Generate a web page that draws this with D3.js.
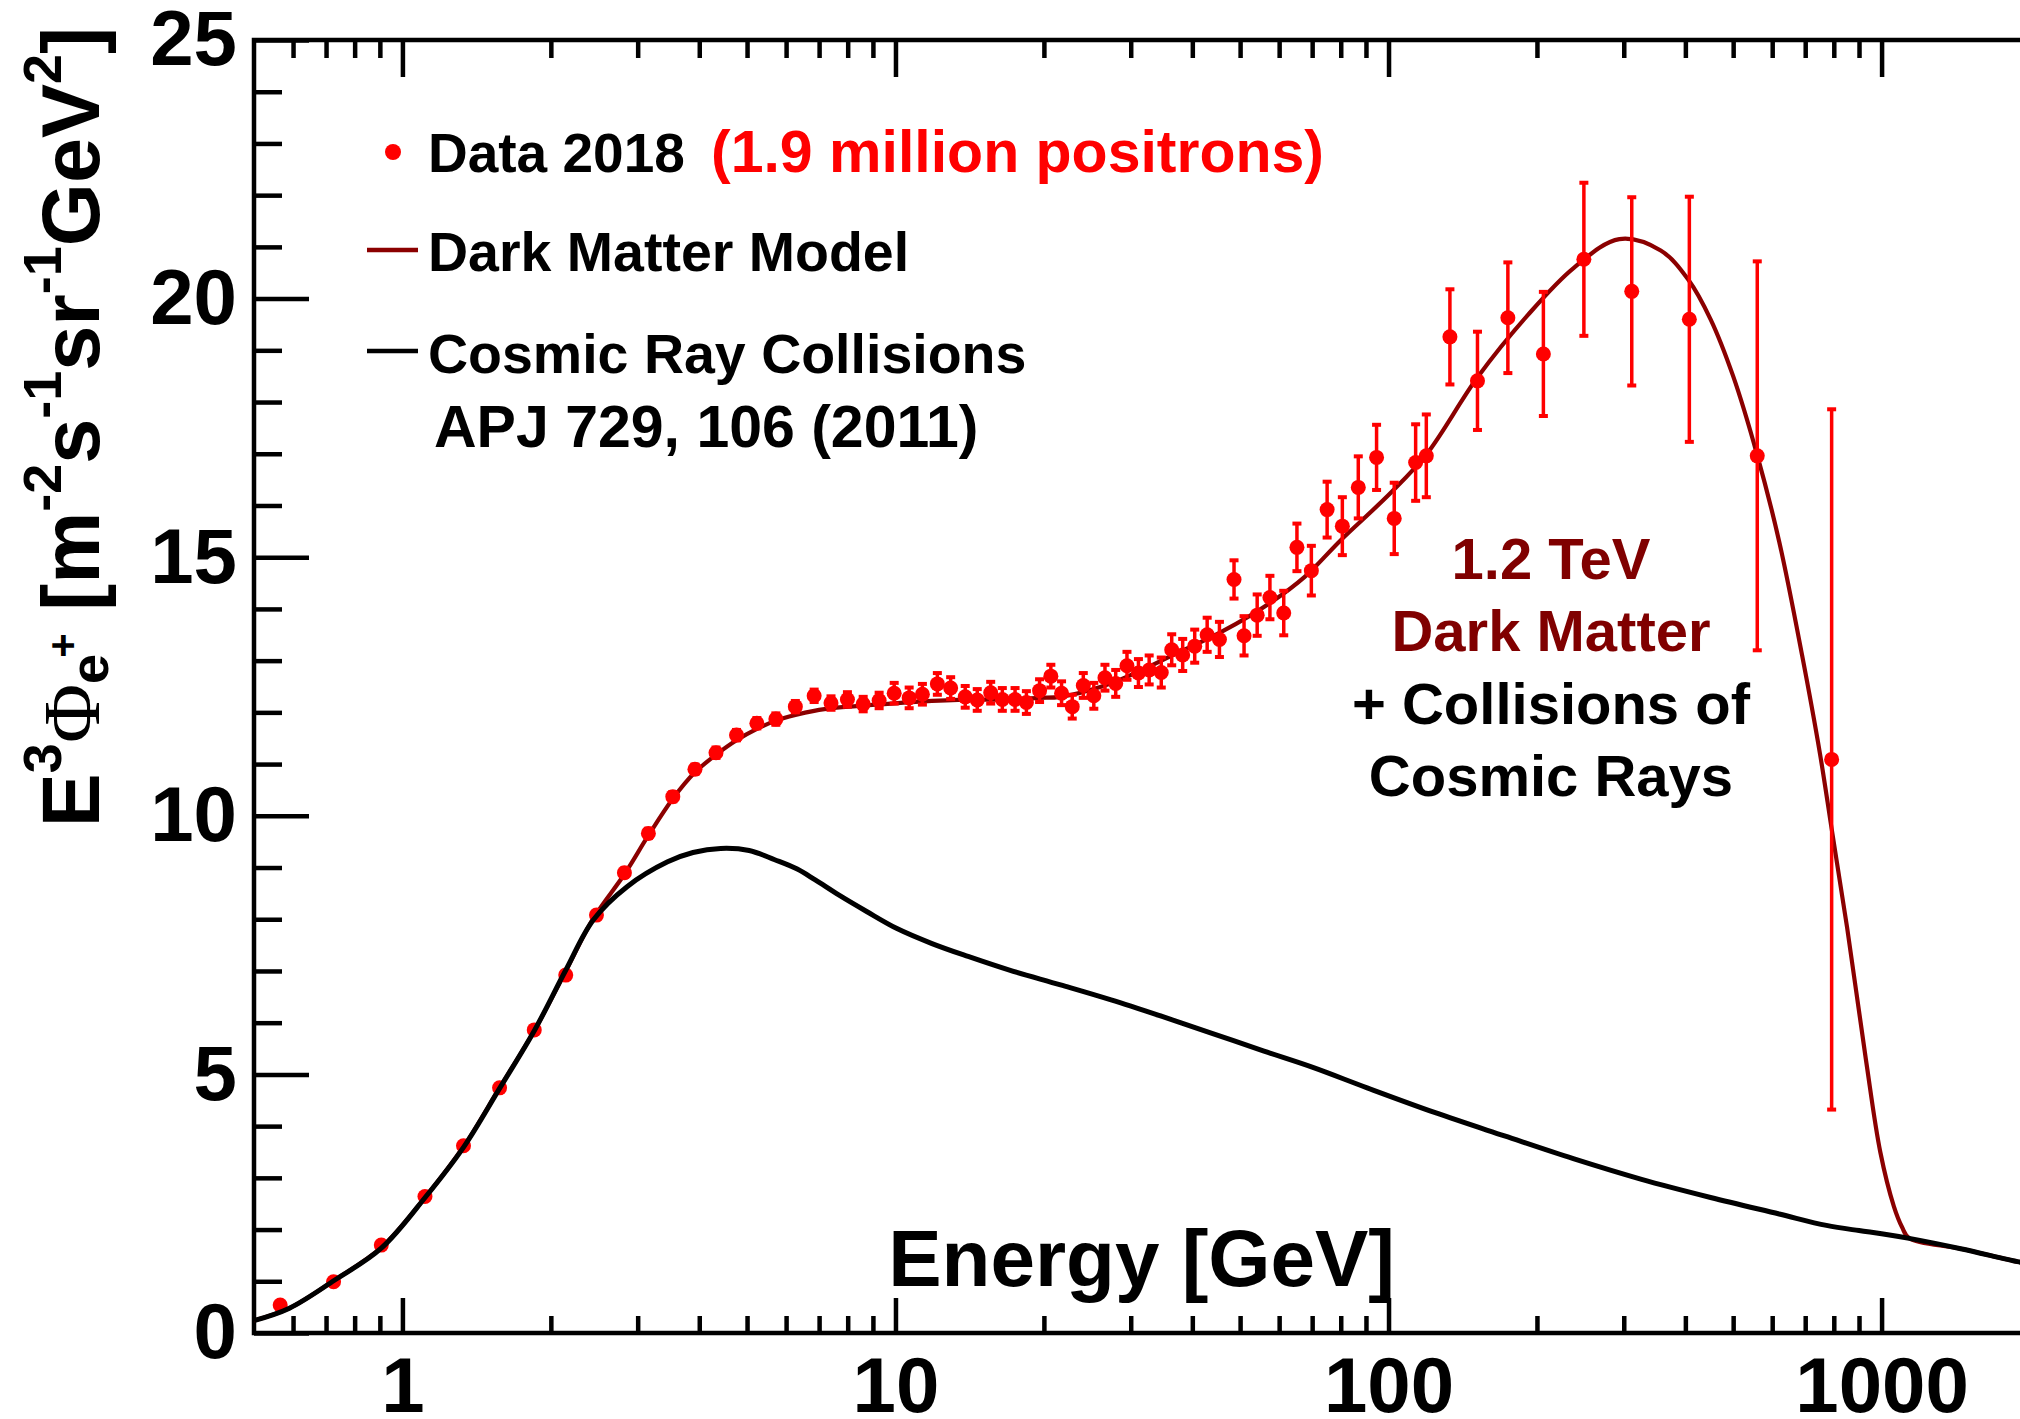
<!DOCTYPE html>
<html>
<head>
<meta charset="utf-8">
<script src="https://cdn.jsdelivr.net/npm/d3@7"></script>
<style>
  html, body { margin: 0; padding: 0; background: #fff; }
  svg { display: block; font-family: "Liberation Sans", Arial, Helvetica, sans-serif; font-weight: bold; }
</style>
</head>
<body>
<svg id="chart" width="2020" height="1419"></svg>
<script>
// Positron flux measurement, E^3-weighted [m^-2 s^-1 sr^-1 GeV^2]
const energy = [0.565,0.725,0.906,1.111,1.33,1.574,1.851,2.144,2.475,2.82,
  3.154,3.535,3.92,4.325,4.76,5.235,5.72,6.265,6.84,7.40,
  7.99,8.60,9.265,9.94,10.66,11.34,12.16,12.94,13.85,14.65,
  15.6,16.47,17.48,18.43,19.6,20.66,21.72,22.83,24.04,25.25,
  26.6,27.97,29.48,31.1,32.7,34.6,36.33,38.24,40.45,42.87,
  45.4,48.6,50.93,54.15,57.47,61.3,65.2,69.74,75.07,80.6,
  86.83,94.57,102.7,113.5,119.3,133.2,151.5,174.6,206.1,249,
  311.4,407.5,559.6,792];
const flux = [0.54,0.99,1.70,2.64,3.62,4.74,5.86,6.92,8.08,8.90,
  9.66,10.37,10.90,11.22,11.56,11.79,11.87,12.11,12.32,12.18,
  12.25,12.16,12.23,12.37,12.28,12.35,12.55,12.47,12.30,12.24,
  12.38,12.25,12.25,12.19,12.42,12.70,12.37,12.11,12.52,12.32,
  12.67,12.56,12.90,12.76,12.82,12.77,13.21,13.11,13.28,13.50,
  13.41,14.57,13.48,13.88,14.22,13.92,15.19,14.74,15.92,15.60,
  16.35,16.93,15.75,16.83,16.96,19.26,18.41,19.63,18.93,20.76,
  20.14,19.60,16.96,11.09];
const fluxErr = [0.04,0.04,0.05,0.05,0.06,0.06,0.07,0.07,0.08,0.08,
  0.09,0.09,0.09,0.10,0.10,0.10,0.11,0.11,0.12,0.13,
  0.14,0.14,0.15,0.20,0.20,0.20,0.21,0.21,0.21,0.21,
  0.21,0.22,0.22,0.22,0.22,0.22,0.23,0.23,0.24,0.25,
  0.25,0.26,0.27,0.27,0.28,0.29,0.30,0.31,0.32,0.33,
  0.34,0.37,0.38,0.40,0.42,0.43,0.46,0.48,0.54,0.56,
  0.60,0.63,0.69,0.74,0.80,0.92,0.95,1.07,1.20,1.48,
  1.82,2.37,3.76,6.77];

// Secondary positrons from cosmic ray collisions (APJ 729, 106)
const bkgEnergy = [0.5,0.59,0.728,0.906,1.116,1.332,1.572,1.855,2.14,2.44,
  2.855,3.45,3.885,4.42,5.05,5.69,6.32,6.875,7.67,8.74,
  10.07,11.86,14.04,16.97,21.62,27.37,34.73,44.0,55.9,70.0,
  90.5,124.4,171.9,237,326,450,620,773,900,1000,
  1138,1447,1886,2000];
const bkgFlux = [0.24,0.48,1.02,1.64,2.64,3.6,4.72,5.86,7.0,7.99,
  8.63,9.11,9.29,9.37,9.33,9.15,8.97,8.76,8.47,8.15,
  7.82,7.53,7.28,7.02,6.73,6.44,6.12,5.79,5.45,5.14,
  4.74,4.26,3.81,3.37,2.97,2.62,2.3,2.08,1.98,1.92,
  1.83,1.63,1.38,1.34];

// Dark matter model (1.2 TeV) plus collisions
const dmEnergy = [0.5,0.59,0.728,0.906,1.116,1.332,1.572,1.855,2.14,2.44,
  2.82,3.154,3.535,3.92,4.325,4.76,5.235,5.72,6.265,6.84,
  7.6,8.33,10.1,13.4,16.97,19.6,21.6,26.6,30.5,36.4,
  45.9,58.0,67.6,80.0,100.7,119.6,151.3,191.6,237.3,293.9,
  356.5,405.3,450,500,559.6,620,690,750,792,851,
  929,994,1059,1100,1138,1447,1886,2000];
const dmFlux = [0.24,0.48,1.02,1.65,2.64,3.61,4.73,5.86,6.98,8.02,
  8.87,9.62,10.33,10.84,11.18,11.46,11.68,11.84,11.95,12.03,
  12.09,12.12,12.18,12.24,12.25,12.28,12.3,12.52,12.75,13.1,
  13.56,14.14,14.62,15.33,16.23,17.0,18.47,19.68,20.59,21.15,
  20.93,20.37,19.6,18.5,16.97,15.3,13.1,11.2,9.75,7.85,
  5.3,3.5,2.45,2.05,1.83,1.63,1.38,1.34];

const yMajorTicks = [0, 5, 10, 15, 20, 25];
const xMajorTicks = [1, 10, 100, 1000];

const RED = "#ff0000", DARKRED = "#8b0000", MAROON = "#800000";

const svg = d3.select("#chart");
svg.append("rect").attr("width", 2020).attr("height", 1419).attr("fill", "#fff");

const padL = 254, padR = 2030, padT = 40, padB = 1333;
const x = d3.scaleLog().domain([0.5, 2000]).range([padL, padR]);
const y = d3.scaleLinear().domain([0, 25]).range([padB, padT]);

const xMinor = [];
[0.1, 1, 10, 100, 1000].forEach(dec => {
  for (let k = 2; k <= 9; k++) {
    const v = dec * k;
    if (v > 0.5 && v < 2000) xMinor.push(v);
  }
});
const yMinor = d3.range(0, 26).filter(v => v % 5 !== 0);

function styleAxis(g) {
  g.select(".domain").remove();
  g.selectAll(".tick line").attr("stroke", "#000").attr("stroke-width", 4.5);
  g.selectAll(".tick text").attr("fill", "#000").attr("font-size", 78)
    .attr("font-family", "'Liberation Sans', Arial, sans-serif").attr("font-weight", "bold");
}

// bottom axis: inward ticks
svg.append("g").attr("transform", `translate(0,${padB})`)
  .call(d3.axisBottom(x).tickValues(xMinor).tickSize(-17).tickFormat(""))
  .call(styleAxis);
svg.append("g").attr("transform", `translate(0,${padB})`)
  .call(d3.axisBottom(x).tickValues(xMajorTicks).tickSize(-35).tickPadding(24).tickFormat(d3.format("d")))
  .call(styleAxis);
// top axis mirror ticks
svg.append("g").attr("transform", `translate(0,${padT})`)
  .call(d3.axisTop(x).tickValues(xMinor).tickSize(-18).tickFormat(""))
  .call(styleAxis);
svg.append("g").attr("transform", `translate(0,${padT})`)
  .call(d3.axisTop(x).tickValues(xMajorTicks).tickSize(-37).tickFormat(""))
  .call(styleAxis);
// left axis
svg.append("g").attr("transform", `translate(${padL},0)`)
  .call(d3.axisLeft(y).tickValues(yMinor).tickSize(-28).tickFormat(""))
  .call(styleAxis);
svg.append("g").attr("transform", `translate(${padL},0)`)
  .call(d3.axisLeft(y).tickValues(yMajorTicks).tickSize(-55).tickPadding(17).tickFormat(d3.format("d")))
  .call(styleAxis);

// frame
svg.append("rect").attr("x", padL).attr("y", padT)
  .attr("width", padR - padL).attr("height", padB - padT)
  .attr("fill", "none").attr("stroke", "#000").attr("stroke-width", 4.5);

// axis titles
svg.append("text").attr("x", 1395).attr("y", 1286).attr("text-anchor", "end")
  .attr("font-size", 80).text("Energy [GeV]");

const yl = svg.append("text")
  .attr("transform", "translate(99,27) rotate(-90)")
  .attr("text-anchor", "end").attr("font-size", 81);
const sup = 54, raise = 38;
yl.append("tspan").text("E");
yl.append("tspan").attr("font-size", sup).attr("dy", -raise).text("3");
yl.append("tspan").attr("dy", raise).attr("font-family", "'Liberation Serif', 'DejaVu Serif', serif")
  .attr("font-weight", "normal").text("\u03A6");
yl.append("tspan").attr("font-size", sup).attr("dy", 9).text("e");
yl.append("tspan").attr("font-size", 42).attr("dy", -31).attr("dx", -4).text("+");
yl.append("tspan").attr("dy", 22).text(" [m");
yl.append("tspan").attr("font-size", sup).attr("dy", -raise).text("-2");
yl.append("tspan").attr("dy", raise).text("s");
yl.append("tspan").attr("font-size", sup).attr("dy", -raise).text("-1");
yl.append("tspan").attr("dy", raise).text("sr");
yl.append("tspan").attr("font-size", sup).attr("dy", -raise).text("-1");
yl.append("tspan").attr("dy", raise).text("GeV");
yl.append("tspan").attr("font-size", sup).attr("dy", -raise).text("2");
yl.append("tspan").attr("dy", raise).text("]");

// curves
const clipId = "plotclip";
svg.append("clipPath").attr("id", clipId).append("rect")
  .attr("x", padL).attr("y", padT).attr("width", padR - padL).attr("height", padB - padT);

const line = d3.line().x(d => x(d[0])).y(d => y(d[1])).curve(d3.curveCatmullRom.alpha(0.5));
const plot = svg.append("g").attr("clip-path", `url(#${clipId})`);

plot.append("path").datum(d3.zip(dmEnergy, dmFlux))
  .attr("d", line).attr("fill", "none").attr("stroke", DARKRED).attr("stroke-width", 4.2);

// data with error bars
const pts = energy.map((e, i) => ({ e, v: flux[i], err: fluxErr[i] }));
const pg = plot.append("g");
pg.selectAll("line.bar").data(pts).join("line")
  .attr("x1", d => x(d.e)).attr("x2", d => x(d.e))
  .attr("y1", d => y(d.v - d.err)).attr("y2", d => y(d.v + d.err))
  .attr("stroke", RED).attr("stroke-width", 3.5);
pg.selectAll("rect.capTop").data(pts).join("rect").attr("class", "capTop")
  .attr("x", d => x(d.e) - 4.5).attr("y", d => y(d.v + d.err) - 2)
  .attr("width", 9).attr("height", 4).attr("fill", RED);
pg.selectAll("rect.capBot").data(pts).join("rect").attr("class", "capBot")
  .attr("x", d => x(d.e) - 4.5).attr("y", d => y(d.v - d.err) - 2)
  .attr("width", 9).attr("height", 4).attr("fill", RED);
pg.selectAll("circle").data(pts).join("circle")
  .attr("cx", d => x(d.e)).attr("cy", d => y(d.v)).attr("r", 7.5).attr("fill", RED);

plot.append("path").datum(d3.zip(bkgEnergy, bkgFlux))
  .attr("d", line).attr("fill", "none").attr("stroke", "#000").attr("stroke-width", 5);

// legend
const lg = svg.append("g");
lg.append("circle").attr("cx", 393).attr("cy", 152).attr("r", 8).attr("fill", RED);
lg.append("text").attr("x", 428).attr("y", 172).attr("font-size", 55).text("Data 2018");
lg.append("text").attr("x", 711).attr("y", 172).attr("font-size", 59).attr("fill", RED)
  .text("(1.9 million positrons)");
lg.append("line").attr("x1", 367).attr("x2", 418).attr("y1", 250).attr("y2", 250)
  .attr("stroke", DARKRED).attr("stroke-width", 4.5);
lg.append("text").attr("x", 428).attr("y", 271).attr("font-size", 55.5).text("Dark Matter Model");
lg.append("line").attr("x1", 367).attr("x2", 418).attr("y1", 351).attr("y2", 351)
  .attr("stroke", "#000").attr("stroke-width", 4.5);
lg.append("text").attr("x", 428).attr("y", 373).attr("font-size", 55.5).text("Cosmic Ray Collisions");
lg.append("text").attr("x", 434).attr("y", 447).attr("font-size", 59).text("APJ 729, 106 (2011)");

// annotation
const notes = [
  { t: "1.2 TeV", c: MAROON, yb: 579 },
  { t: "Dark Matter", c: MAROON, yb: 651 },
  { t: "+ Collisions of", c: "#000", yb: 724 },
  { t: "Cosmic Rays", c: "#000", yb: 796 }
];
svg.append("g").selectAll("text").data(notes).join("text")
  .attr("x", 1551).attr("y", d => d.yb).attr("text-anchor", "middle")
  .attr("font-size", 58).attr("fill", d => d.c).text(d => d.t);
</script>
</body>
</html>
